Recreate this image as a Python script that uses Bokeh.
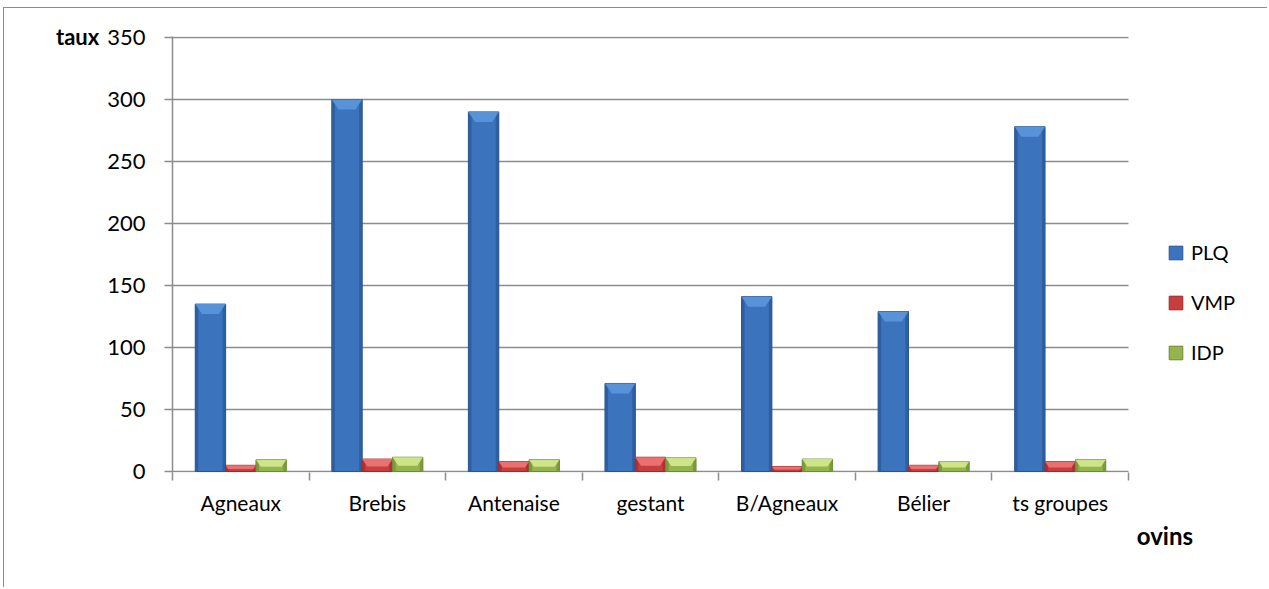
from bokeh.plotting import figure
from bokeh.models import (Range1d, FixedTicker, Legend, LegendItem, Title, ColumnDataSource)
from bokeh.embed import file_html
from bokeh.resources import INLINE

# Data
categories = ["Agneaux", "Brebis", "Antenaise", "gestant", "B/Agneaux", "Bélier", "ts groupes"]
plq = [135, 300, 290, 71, 141, 129, 278]
vmp = [5, 10, 8, 11.5, 4, 5, 8]
idp = [9.5, 11.5, 9.5, 11, 10, 8, 9.5]
series_names = ["PLQ", "VMP", "IDP"]
y_ticks = [0, 50, 100, 150, 200, 250, 300, 350]

FONT = "Lato"
GRID = "#8C8C8C"

# plot frame: 956 px for the seven groups, the rest of the width holds the legend
W, H = 1264, 580
LEFT, TOP, BOTTOM = 168, 28, 116
n = len(categories)
unit_px = 956 / n
frame_w = W - LEFT
x_end = n + (frame_w - 956) / unit_px
pad = 1 / 434 * 350  # one pixel of headroom top and bottom

p = figure(width=W, height=H, output_backend="svg", toolbar_location=None,
           x_range=Range1d(0, x_end), y_range=Range1d(-pad, 350 + pad),
           min_border_left=LEFT, min_border_right=0, min_border_top=TOP,
           min_border_bottom=BOTTOM)
p.margin = (7, 0, 0, 3)
p.styles = {"border-top": "1.5px solid #8C8C8C", "border-left": "1.5px solid #8C8C8C"}
p.outline_line_color = None
p.xgrid.grid_line_color = None
p.ygrid.grid_line_color = None

# horizontal gridlines (the one at 0 doubles as the category axis line)
p.segment(x0=[0] * len(y_ticks), x1=[n] * len(y_ticks), y0=y_ticks, y1=y_ticks,
          line_color=GRID, line_width=1.5)

# y axis
p.yaxis.ticker = FixedTicker(ticks=y_ticks, minor_ticks=[])
p.yaxis.axis_line_color = GRID
p.yaxis.axis_line_width = 1.5
p.yaxis.major_tick_line_color = GRID
p.yaxis.major_tick_line_width = 1.5
p.yaxis.major_tick_out = 8
p.yaxis.major_tick_in = 0
p.yaxis.minor_tick_line_color = None
p.yaxis.major_label_standoff = 19
p.yaxis.major_label_text_font = FONT
p.yaxis.major_label_text_font_size = "22px"
p.yaxis.major_label_text_color = "#000000"
p.yaxis.axis_label = "taux"
p.yaxis.axis_label_orientation = "horizontal"
p.yaxis.axis_label_align = "end"
p.yaxis.axis_label_standoff = 5
p.yaxis.axis_label_text_font = FONT
p.yaxis.axis_label_text_font_style = "bold"
p.yaxis.axis_label_text_font_size = "22px"
p.yaxis.axis_label_text_color = "#000000"

# x axis: labels at category centres, tick marks at category boundaries
centres = [i + 0.5 for i in range(n)]
bounds = list(range(n + 1))
p.xaxis.ticker = FixedTicker(ticks=centres, minor_ticks=bounds)
p.xaxis.major_label_overrides = {c: name for c, name in zip(centres, categories)}
p.xaxis.axis_line_color = None
p.xaxis.major_tick_line_color = None
p.xaxis.major_tick_out = 0
p.xaxis.major_tick_in = 0
p.xaxis.minor_tick_line_color = GRID
p.xaxis.minor_tick_line_width = 1.5
p.xaxis.minor_tick_out = 8
p.xaxis.minor_tick_in = 0
p.xaxis.major_label_standoff = 9
p.xaxis.major_label_text_font = FONT
p.xaxis.major_label_text_font_size = "21px"
p.xaxis.major_label_text_color = "#000000"

# bar geometry: three bars per group, gap of 1.5 bar widths
bw = 1.0 / 4.5
offsets = [0.75 * bw + (j + 0.5) * bw for j in range(3)]

styles = [
    # body, side, top bevel, outline
    ("#3B73BD", "#2C5A98", "#5C97DC", "#2A5490"),
    ("#C83E3F", "#A52E30", "#EE7676", "#9A2A2C"),
    ("#94B44E", "#76923A", "#D3EA8E", "#6E8A34"),
]
all_series = [plq, vmp, idp]
px_per_unit = 434 / 350.0

items = []
for j, (vals, name) in enumerate(zip(all_series, series_names)):
    body, side, top, edge = styles[j]
    xs = [i + offsets[j] for i in range(n)]
    src = ColumnDataSource(dict(x=xs, top=vals))
    r = p.vbar(x="x", top="top", width=bw, bottom=0, source=src,
               fill_color=body, line_color=edge, line_width=1)
    items.append(LegendItem(label=name, renderers=[r]))
    # darker side facets
    side_w = bw * 0.1
    p.vbar(x=[x - bw / 2 + side_w / 2 for x in xs], top=vals, width=side_w,
           fill_color=side, line_color=None, fill_alpha=0.8)
    p.vbar(x=[x + bw / 2 - side_w / 2 for x in xs], top=vals, width=side_w,
           fill_color=side, line_color=None, fill_alpha=0.8)
    # lighter top bevel
    pxs, pys = [], []
    for x, v in zip(xs, vals):
        d = min(10 / px_per_unit, v * 0.6)
        inset = bw * 0.22 * (d / (10 / px_per_unit))
        pxs.append([x - bw / 2, x + bw / 2, x + bw / 2 - inset, x - bw / 2 + inset])
        pys.append([v, v, v - d, v - d])
    p.patches(pxs, pys, fill_color=top, line_color=None, fill_alpha=0.9)

# legend, right of the groups
lg = Legend(items=items, location=(995, 108))
lg.border_line_color = None
lg.background_fill_alpha = 0
lg.padding = 0
lg.margin = 0
lg.glyph_width = 17
lg.glyph_height = 17
lg.label_height = 20
lg.spacing = 26
lg.label_standoff = 7
lg.label_text_font = FONT
lg.label_text_font_size = "20px"
lg.label_text_color = "#000000"
p.add_layout(lg, "center")

# x axis title, right of the axis end
p.add_layout(Title(text="ovins", align="right", offset=frame_w + LEFT + 4.5 - 1193,
                   standoff=2, text_font=FONT, text_font_style="bold",
                   text_font_size="24px", text_color="#000000"), "below")

open("out.html", "w").write(file_html(p, INLINE))
